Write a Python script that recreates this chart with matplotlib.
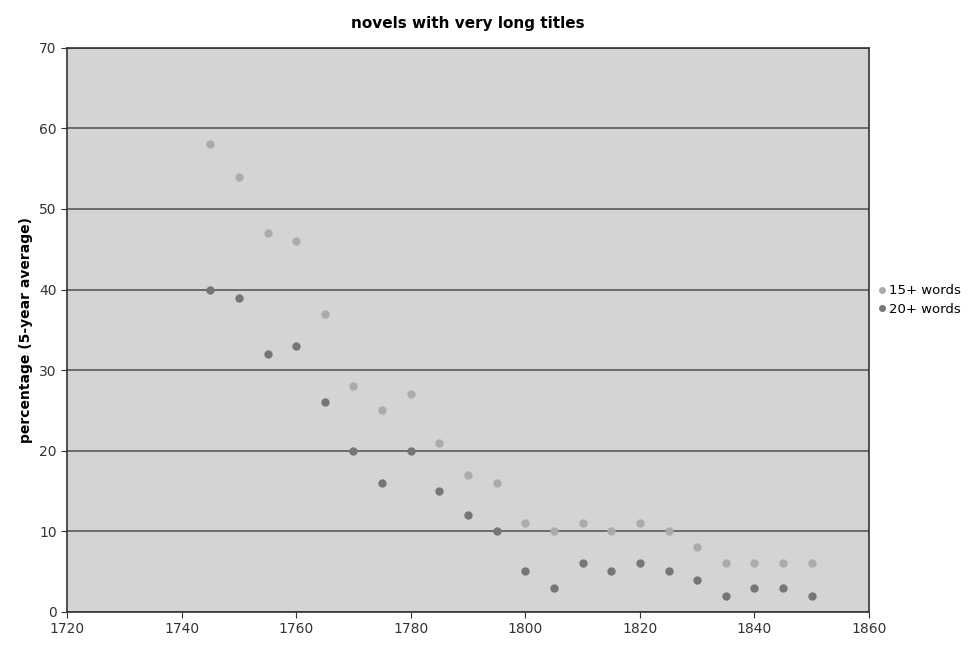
import matplotlib.pyplot as plt

years = [1745, 1750, 1755, 1760, 1765, 1770, 1775, 1780, 1785, 1790, 1795,
         1800, 1805, 1810, 1815, 1820, 1825, 1830, 1835, 1840, 1845, 1850]
words15 = [58, 54, 47, 46, 37, 28, 25, 27, 21, 17, 16,
           11, 10, 11, 10, 11, 10, 8, 6, 6, 6, 6]
words20 = [40, 39, 32, 33, 26, 20, 16, 20, 15, 12, 10,
           5, 3, 6, 5, 6, 5, 4, 2, 3, 3, 2]

fig = plt.figure(figsize=(9.71, 6.46), dpi=100)
ax = fig.add_axes([0.069, 0.053, 0.826, 0.873])
ax.set_facecolor('#d4d4d4')

ax.plot(years, words15, 'o', color='#ababab', markersize=5, label='15+ words', zorder=3)
ax.plot(years, words20, 'o', color='#767676', markersize=5, label='20+ words', zorder=3)

ax.set_xlim(1720, 1860)
ax.set_ylim(0, 70)
ax.set_xticks(range(1720, 1861, 20))
ax.set_yticks(range(0, 71, 10))
ax.yaxis.grid(True, color='#5a5a5a', linewidth=1.2)
ax.set_axisbelow(True)
for s in ax.spines.values():
    s.set_color('#333333')
    s.set_linewidth(1.2)
ax.tick_params(labelsize=10, color='#333333', length=4, labelcolor='#333333')

ax.set_title('novels with very long titles', fontsize=11, fontweight='bold', pad=14)
ax.set_ylabel('percentage (5-year average)', fontsize=10, fontweight='bold')

ax.legend(loc='center left', bbox_to_anchor=(1.0, 0.553), frameon=False,
          fontsize=9.5, handletextpad=0.2, handlelength=0.6, markerscale=0.8,
          borderaxespad=0.5, borderpad=0.2, labelspacing=0.4)

fig.savefig('out.png', dpi=100)
